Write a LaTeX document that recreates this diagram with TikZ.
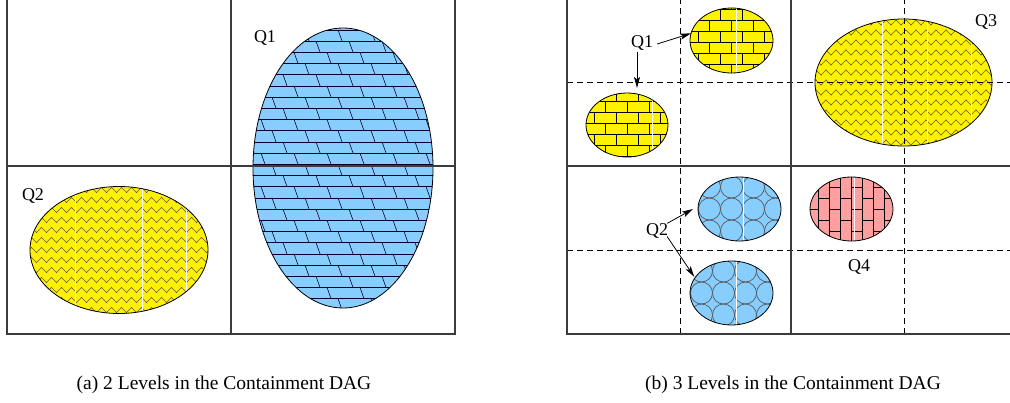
\documentclass[tikz,border=0pt]{standalone}
\usepackage{fontspec}
\setmainfont{Liberation Serif}
\usetikzlibrary{shapes.geometric,arrows.meta,decorations.pathmorphing,calc}
\definecolor{ltblue}{RGB}{135,206,255}
\definecolor{pinkfill}{RGB}{255,160,160}
\definecolor{zigcol}{RGB}{100,100,0}
\definecolor{framegray}{RGB}{60,60,60}
\tikzset{
  frameline/.style={draw=framegray,line width=1.6pt},
  dashline/.style={draw=black,line width=0.8pt,dash pattern=on 6pt off 4pt},
  region/.style={ellipse,draw=black,line width=0.8pt,inner sep=0pt,outer sep=0pt},
  slantline/.style={draw=black!85!blue,line width=0.6pt},
  zigline/.style={draw=zigcol,line width=0.6pt,decorate,decoration={zigzag,segment length=10pt,amplitude=2.6pt}},
  brickline/.style={draw=black,line width=1pt},
  circline/.style={draw=black!65,line width=0.7pt},
  seam/.style={draw=white,line width=1pt},
  lbl/.style={font=\fontsize{18}{20}\selectfont,inner sep=1pt},
  captxt/.style={font=\fontsize{19.5}{22}\selectfont,inner sep=1pt},
  arr/.style={draw=black,line width=0.8pt,-{Stealth[length=11pt,width=6pt,inset=2.5pt]}}
}
\newcommand\slantpat{%
  \begin{scope}[shift={(path picture bounding box.center)}]
    \foreach \k in {-14,...,13}{
      \draw[slantline] (-100,\k*11.2-3.8) -- (100,\k*11.2-3.8);
      \foreach \j in {-4,...,4}{
        \pgfmathsetmacro\xx{\j*33+mod(\k+30,3)*11-5}
        \draw[slantline] (\xx,\k*11.2-3.8) -- (\xx+4,\k*11.2+7.4);
      }}
  \end{scope}}
\newcommand\zigpat[1]{%
  \begin{scope}[shift={(path picture bounding box.center)}]
    \foreach \k in {-7,...,7}
      \draw[zigline] (-100,\k*10) -- (100,\k*10);
    \foreach \s in {#1} \draw[seam] (\s,-80) -- (\s,80);
  \end{scope}}
\newcommand\hbrickpat[2]{%
  \begin{scope}[shift={(path picture bounding box.center)}]
    \foreach \k in {-4,...,3}{
      \draw[brickline] (-60,\k*11+#1) -- (60,\k*11+#1);
      \foreach \j in {-3,...,3}{
        \pgfmathsetmacro\xx{\j*22+mod(\k+10,2)*11}
        \draw[brickline] (\xx,\k*11+#1) -- (\xx,\k*11+11+#1);
      }}
    \draw[seam] (#2,-50) -- (#2,50);
  \end{scope}}
\newcommand\vbrickpat[2]{%
  \begin{scope}[shift={(path picture bounding box.center)}]
    \foreach \k in {-5,...,4}{
      \draw[brickline] (\k*11+#1,-60) -- (\k*11+#1,60);
      \foreach \j in {-3,...,3}{
        \pgfmathsetmacro\yy{\j*22+mod(\k+10,2)*11}
        \draw[brickline] (\k*11+#1,\yy) -- (\k*11+11+#1,\yy);
      }}
    \draw[seam] (#2,-50) -- (#2,50);
  \end{scope}}
\newcommand\circpat[3]{%
  \begin{scope}[shift={(path picture bounding box.center)}]
    \foreach \k in {-2,...,2}
      \foreach \j in {-3,...,3}
        \draw[circline] (\j*22+#1,\k*22+#2) circle[radius=11pt];
    \draw[seam] (#3,-50) -- (#3,50);
  \end{scope}}
\begin{document}
\begin{tikzpicture}[x=1pt,y=-1pt]
\useasboundingbox (0,0) rectangle (1010,402);
% ---------- panel (a) ----------
\node[region,fill=ltblue,minimum width=180pt,minimum height=280pt,
      path picture={\slantpat}] (aq1) at (343,168) {};
\node[region,fill=yellow,minimum width=178pt,minimum height=127pt,
      path picture={\zigpat{-44,23,67}}] (aq2) at (119,250) {};
\draw[frameline] (7,-2) rectangle (455,334);
\draw[frameline] (231,-2) -- (231,334);
\draw[frameline] (7,166) -- (455,166);
\node[lbl] (laq1) at (265,38) {Q1};
\node[lbl] (laq2) at (33,196) {Q2};
\node[captxt] (capa) at (224,385) {(a) 2 Levels in the Containment DAG};
% ---------- panel (b) ----------
\node[region,fill=yellow,minimum width=83pt,minimum height=65pt,
      path picture={\hbrickpat{2}{4.5}}] (bq1a) at (731.5,40.5) {};
\node[region,fill=yellow,minimum width=82pt,minimum height=64pt,
      path picture={\hbrickpat{-2}{25}}] (bq1b) at (627,125) {};
\node[region,fill=ltblue,minimum width=83pt,minimum height=64pt,
      path picture={\circpat{-8}{0}{3.5}}] (bq2a) at (739.5,209) {};
\node[region,fill=ltblue,minimum width=83pt,minimum height=64pt,
      path picture={\circpat{-8}{0}{4.5}}] (bq2b) at (731.5,293) {};
\node[region,fill=yellow,minimum width=177pt,minimum height=127pt,
      path picture={\zigpat{-21.5,23.5,67.5}}] (bq3) at (903.5,82.5) {};
\node[region,fill=pinkfill,minimum width=83pt,minimum height=64pt,
      path picture={\vbrickpat{0}{2.5}}] (bq4) at (851.5,209) {};
\draw[dashline] (680,-2) -- (680,334);
\draw[dashline] (904,-2) -- (904,334);
\draw[dashline] (567,82) -- (1015,82);
\draw[dashline] (567,250) -- (1015,250);
\draw[frameline] (567,-2) rectangle (1015,334);
\draw[frameline] (791,-2) -- (791,334);
\draw[frameline] (567,166) -- (1015,166);
\node[lbl] (lbq1) at (642,43) {Q1};
\node[lbl] (lbq2) at (657,231) {Q2};
\node[lbl] (lbq3) at (986,22) {Q3};
\node[lbl] (lbq4) at (859,267) {Q4};
\coordinate (q1down) at (637,88);
\draw[arr] ([xshift=3pt,yshift=-1pt]lbq1.east) -- (bq1a.170);
\draw[arr] ([xshift=-5pt]lbq1.south) -- (q1down);
\draw[arr] ([xshift=-2pt,yshift=-1pt]lbq2.north east) -- ([xshift=-5pt]bq2a.west);
\draw[arr] ([xshift=-2pt,yshift=3pt]lbq2.south east) -- ([xshift=-4pt,yshift=-3pt]bq2b.150);
\node[captxt] (capb) at (793,385) {(b) 3 Levels in the Containment DAG};
\end{tikzpicture}
\end{document}
